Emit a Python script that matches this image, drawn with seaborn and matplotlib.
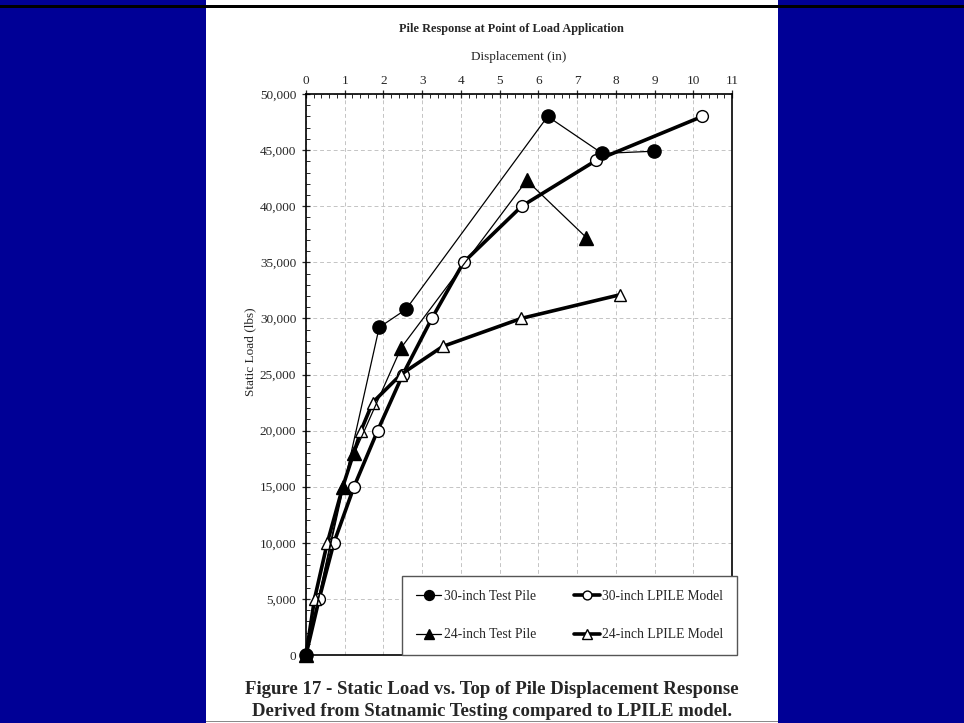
import matplotlib
matplotlib.use("Agg")
import matplotlib.pyplot as plt
import matplotlib.patches as mpatches
from matplotlib.ticker import MultipleLocator, FuncFormatter
import seaborn as sns
import pandas as pd

# ---- data ----
disp_30_test = [0, 1.89, 2.58, 6.24, 7.65, 8.98]
load_30_test = [0, 29200, 30800, 48000, 44700, 44900]

disp_24_test = [0, 0.95, 1.25, 2.46, 5.70, 7.24]
load_24_test = [0, 15000, 18000, 27400, 42300, 37200]

disp_30_lpile = [0, 0.34, 0.72, 1.24, 1.85, 2.50, 3.25, 4.07, 5.57, 7.50, 10.23]
load_30_lpile = [0, 5000, 10000, 15000, 20000, 25000, 30000, 35000, 40000, 44100, 48000]

disp_24_lpile = [0, 0.22, 0.55, 0.95, 1.42, 1.72, 2.45, 3.53, 5.56, 8.10]
load_24_lpile = [0, 5000, 10000, 15000, 20000, 22500, 25000, 27500, 30000, 32100]

series_names = ["30-inch Test Pile", "24-inch Test Pile", "30-inch LPILE Model", "24-inch LPILE Model"]

title_text = "Pile Response at Point of Load Application"
xlabel_text = "Displacement (in)"
ylabel_text = "Static Load (lbs)"
caption_lines = ["Figure 17 - Static Load vs. Top of Pile Displacement Response",
                 "Derived from Statnamic Testing compared to LPILE model."]

# ---- style ----
sns.set_style("white")
plt.rcParams["font.family"] = ["Liberation Serif", "DejaVu Serif"]

W, H = 964, 723
fig = plt.figure(figsize=(W / 100, H / 100), dpi=100)
fig.patch.set_facecolor("#000096")

# white panel, top black bar, bottom gray rule
fig.patches.append(mpatches.Rectangle((206 / W, 0), (778 - 206) / W, 1, transform=fig.transFigure,
                                      facecolor="white", edgecolor="none", zorder=-3))
fig.patches.append(mpatches.Rectangle((0, 1 - 7.5 / H), 1, 2.8 / H, transform=fig.transFigure,
                                      facecolor="black", edgecolor="none", zorder=-2))
fig.patches.append(mpatches.Rectangle((206 / W, 1 - 722 / H), (778 - 206) / W, 1.5 / H,
                                      transform=fig.transFigure,
                                      facecolor="#8a8a8a", edgecolor="none", zorder=-2))

ax_l, ax_r, ax_t, ax_b = 306, 732, 94, 655
ax = fig.add_axes([ax_l / W, 1 - ax_b / H, (ax_r - ax_l) / W, (ax_b - ax_t) / H])
ax.set_zorder(1)
ax.set_facecolor("white")

# draw model curves first so the filled test markers sit on top
specs = [
    (disp_30_lpile, load_30_lpile, series_names[2], "o", "white", 2.6, 8.5),
    (disp_24_lpile, load_24_lpile, series_names[3], "^", "white", 2.6, 9.0),
    (disp_30_test, load_30_test, series_names[0], "o", "black", 0.9, 9.5),
    (disp_24_test, load_24_test, series_names[1], "^", "black", 0.9, 9.5),
]
for xs, ys, name, mk, fc, lw, ms in specs:
    df = pd.DataFrame({"x": xs, "y": ys})
    sns.lineplot(data=df, x="x", y="y", ax=ax, sort=False, estimator=None,
                 color="black", linewidth=lw, marker=mk, markersize=ms,
                 markerfacecolor=fc, markeredgecolor="black", markeredgewidth=1.0,
                 label=name, zorder=3, clip_on=False)

ax.set_xlim(0, 11)
ax.set_ylim(0, 50000)
ax.xaxis.set_major_locator(MultipleLocator(1))
ax.xaxis.set_minor_locator(MultipleLocator(0.2))
ax.yaxis.set_major_locator(MultipleLocator(5000))
ax.yaxis.set_minor_locator(MultipleLocator(1000))
ax.yaxis.set_major_formatter(FuncFormatter(lambda v, p: f"{int(v):,}"))
ax.xaxis.tick_top()
ax.xaxis.set_label_position("top")
ax.tick_params(axis="x", which="major", direction="inout", length=6, width=0.9,
               labelsize=9.5, pad=2, top=True, bottom=False, labeltop=True, labelbottom=False)
ax.tick_params(axis="x", which="minor", direction="in", length=3, width=0.7, top=True, bottom=False)
ax.tick_params(axis="y", which="major", direction="inout", length=6, width=0.9, labelsize=9.5, pad=4,
               left=True)
ax.tick_params(axis="y", which="minor", direction="in", length=3, width=0.7, left=True)
for s in ax.spines.values():
    s.set_visible(True)
    s.set_color("black")
    s.set_linewidth(1.2)

ax.grid(True, which="major", color="#c4c4c4", linestyle=(0, (4, 3)), linewidth=0.7, zorder=0)
ax.set_axisbelow(True)

ax.set_xlabel(xlabel_text, fontsize=9.5, labelpad=11)
ax.set_ylabel(ylabel_text, fontsize=9.5)
ax.yaxis.set_label_coords(-0.117, 0.54)

fig.text(511 / W, 1 - 29 / H, title_text, ha="center", va="center", fontsize=8.8, fontweight="bold")

# legend (column-major order: test piles left, models right)
if ax.get_legend():
    ax.get_legend().remove()
handles, labels = ax.get_legend_handles_labels()
lookup = dict(zip(labels, handles))
order = [series_names[0], series_names[1], series_names[2], series_names[3]]
leg = fig.legend([lookup[n] for n in order], order, ncol=2, loc="lower left",
                 bbox_to_anchor=(402 / W, 1 - 655 / H, (737 - 402) / W, (655 - 573) / H),
                 mode="expand", fontsize=9.8, frameon=True, fancybox=False,
                 edgecolor="#555555", facecolor="white", framealpha=1,
                 handlelength=1.9, handletextpad=0.15, labelspacing=1.9, markerscale=0.75,
                 borderpad=1.0, columnspacing=1.0, borderaxespad=0)
leg.get_frame().set_linewidth(1.0)
leg.set_zorder(5)

fig.text(492 / W, 1 - 690 / H, caption_lines[0], ha="center", va="center",
         fontsize=13.5, fontweight="bold")
fig.text(492 / W, 1 - 712 / H, caption_lines[1], ha="center", va="center",
         fontsize=13.5, fontweight="bold")

fig.savefig("out.png", dpi=100, facecolor=fig.get_facecolor())
